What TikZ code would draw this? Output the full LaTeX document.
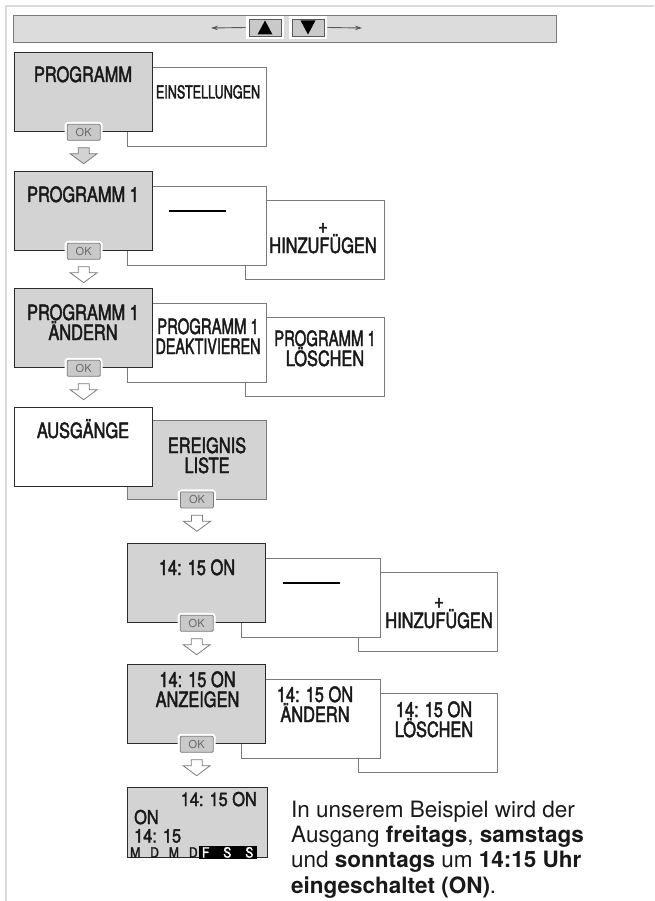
\documentclass[tikz,border=0pt]{standalone}
\usepackage{fontspec}
\usepackage{graphicx}
\setmainfont{TeX Gyre Heros}
\newfontfamily\condfont[FakeStretch=0.78, FakeBold=2]{TeX Gyre Heros}
\newfontfamily\narrowfont[FakeStretch=0.70, FakeBold=2]{TeX Gyre Heros}
\newfontfamily\dispfont[FakeStretch=0.86, FakeBold=2]{TeX Gyre Heros}
\usetikzlibrary{positioning, calc, arrows.meta}
\definecolor{panelgray}{HTML}{D3D3D3}
\definecolor{bargray}{HTML}{DCDCDC}
\definecolor{framegray}{HTML}{DADADA}
\definecolor{edgegray}{HTML}{7A7A7A}
\definecolor{darkedge}{HTML}{2A2A2A}
\definecolor{okgray}{HTML}{C9C9C9}
\tikzstyle{mainbox} = [rectangle, anchor=north west, minimum width=138pt, minimum height=79pt, inner sep=0pt, draw=darkedge, line width=1.3pt, fill=panelgray]
\tikzstyle{subbox} = [rectangle, anchor=north west, minimum width=139pt, minimum height=79pt, inner sep=0pt, draw=edgegray, line width=0.9pt, fill=white]
\tikzstyle{boxtext} = [anchor=base, align=center, inner sep=0pt, text=black!90, font=\condfont\fontsize{21}{20}\selectfont]
\tikzstyle{disptext} = [inner sep=0pt, text=black!90, font=\dispfont\fontsize{19}{18}\selectfont]
\tikzstyle{okbutton} = [rectangle, rounded corners=1pt, minimum width=33pt, minimum height=16pt, inner sep=0pt, draw=edgegray, fill=okgray, line width=0.8pt, text=black!60, font=\fontsize{11}{11}\selectfont, preaction={draw=white, line width=5pt}]
\tikzstyle{keybtn} = [rectangle, minimum width=32pt, minimum height=17pt, inner sep=0pt, draw=black!65, fill=okgray, line width=0.8pt, preaction={draw=white, line width=6pt}]
\tikzstyle{navarrow} = [draw=black!65, line width=0.9pt, -{Stealth[length=7pt, width=4.5pt]}]
\tikzset{
    okarrow/.style={draw=edgegray, fill=#1, line width=0.8pt, to path={
        let \p1=(\tikztostart) in
        (\x1-5.5pt,\y1-7pt) -- (\x1+5.5pt,\y1-7pt) -- (\x1+5.5pt,\y1-13pt) -- (\x1+13.5pt,\y1-13pt)
        -- (\x1,\y1-23pt) -- (\x1-13.5pt,\y1-13pt) -- (\x1-5.5pt,\y1-13pt) -- cycle}},
    okarrow/.default=white
}

\begin{document}
\begin{tikzpicture}[x=1pt, y=-1pt]
    \useasboundingbox (0,0) rectangle (654,901);

    % Rahmen
    \draw [framegray, line width=2pt] (654,6.5) -- (5.5,6.5) -- (5.5,901);

    % Navigationsleiste
    \node (bar) [rectangle, anchor=north west, minimum width=543pt, minimum height=27pt, inner sep=0pt, fill=bargray, draw=edgegray, line width=1pt] at (13,15) {};
    \node (keyUp) [keybtn] at (265,27.5) {};
    \node (keyDown) [keybtn] at (308,27.5) {};
    \fill ([shift={(-7.5,7)}]keyUp.center) -- ([shift={(7.5,7)}]keyUp.center) -- ([shift={(0,-7)}]keyUp.center) -- cycle;
    \fill ([shift={(-7.5,-7)}]keyDown.center) -- ([shift={(7.5,-7)}]keyDown.center) -- ([shift={(0,7)}]keyDown.center) -- cycle;
    \coordinate (navL) at (211,28);
    \coordinate (navR) at (362,28);
    \draw [navarrow] ([xshift=-3pt]keyUp.west) -- (navL);
    \draw [navarrow] ([xshift=3pt]keyDown.east) -- (navR);

    % Zeile 1
    \coordinate (r1) at (14,52);
    \node (einst) [subbox, xshift=113pt, yshift=-15pt] at (r1) {};
    \node (prog) [mainbox] at (r1) {};
    \node (progT) [boxtext] at (83,82) {PROGRAMM};
    \node (einstT) [boxtext, font=\narrowfont\fontsize{18}{18}\selectfont] at (208,98.5) {EINSTELLUNGEN};
    \node (ok1) [okbutton] at (prog.south) {OK};

    % Zeile 2
    \coordinate (r2) at (14,171);
    \node (neu) [subbox, xshift=231pt, yshift=-29pt] at (r2) {};
    \node (leer) [subbox, xshift=113pt, yshift=-15pt] at (r2) {};
    \node (prog1) [mainbox] at (r2) {};
    \node (prog1T) [boxtext] at (83,202) {PROGRAMM 1};
    \node (leerT) [inner sep=0pt] at (197,211) {\rule{57pt}{1.8pt}};
    \node (neuT) [boxtext] at (323,253) {+\\HINZUFÜGEN};
    \node (ok2) [okbutton] at (prog1.south) {OK};

    % Zeile 3
    \coordinate (r3) at (14,288);
    \node (loesch) [subbox, xshift=231pt, yshift=-29pt] at (r3) {};
    \node (deak) [subbox, xshift=113pt, yshift=-15pt] at (r3) {};
    \node (aend) [mainbox] at (r3) {};
    \node (aendT) [boxtext] at (83,340) {PROGRAMM 1\\ÄNDERN};
    \node (deakT) [boxtext] at (208,354) {\scalebox{0.91}[1]{PROGRAMM 1}\\\scalebox{0.87}[1]{DEAKTIVIEREN}};
    \node (loeschT) [boxtext] at (325,366) {\scalebox{0.91}[1]{PROGRAMM 1}\\LÖSCHEN};
    \node (ok3) [okbutton] at (aend.south) {OK};

    % Zeile 4
    \coordinate (r4) at (14,407);
    \node (liste) [subbox, fill=panelgray, xshift=113pt, yshift=-13pt] at (r4) {};
    \node (ausg) [mainbox, fill=white] at (r4) {};
    \node (ausgT) [boxtext] at (83,438) {AUSGÄNGE};
    \node (listeT) [boxtext] at (207,473) {EREIGNIS\\LISTE};
    \node (ok4) [okbutton] at (liste.south) {OK};

    % Zeile 5
    \coordinate (r5) at (127,543);
    \node (neuEv) [subbox, xshift=231pt, yshift=-29pt] at (r5) {};
    \node (leerEv) [subbox, xshift=114pt, yshift=-15pt] at (r5) {};
    \node (ev) [mainbox] at (r5) {};
    \node (evT) [boxtext] at (197,575) {14: 15 ON};
    \node (leerEvT) [inner sep=0pt] at (311,583) {\rule{57pt}{1.8pt}};
    \node (neuEvT) [boxtext] at (439,628) {+\\HINZUFÜGEN};
    \node (ok5) [okbutton] at (ev.south) {OK};

    % Zeile 6
    \coordinate (r6) at (127,664);
    \node (loeschEv) [subbox, xshift=231pt, yshift=-29pt] at (r6) {};
    \node (aendEv) [subbox, xshift=114pt, yshift=-15pt] at (r6) {};
    \node (anz) [mainbox] at (r6) {};
    \node (anzT) [boxtext] at (197.5,707) {14: 15 ON\\ANZEIGEN};
    \node (aendEvT) [boxtext] at (315,722) {14: 15 ON\\ÄNDERN};
    \node (loeschEvT) [boxtext] at (434,737) {14: 15 ON\\LÖSCHEN};
    \node (ok6) [okbutton] at (anz.south) {OK};

    % Anzeige
    \node (disp) [mainbox, minimum width=140pt, minimum height=70pt] at (127,787) {};
    \node (dispTime) [disptext, anchor=base east] at (257,806) {14: 15 ON};
    \node (dispOn) [disptext, anchor=base west] at (134,824) {ON};
    \node (dispClock) [disptext, anchor=base west] at (134,842.5) {14: 15};
    \node (dispDays) [disptext, anchor=base west, font=\dispfont\fontsize{14}{14}\selectfont] at (130,857.5) {M\hspace{10pt}D\hspace{10pt}M\hspace{10pt}D\hspace{1pt}{\setlength{\fboxsep}{0.8pt}\colorbox{black}{\color{white}\hspace{2.5pt}F\hspace{14pt}S\hspace{14pt}S\hspace{2.5pt}}}};

    % Pfeile
    \draw [okarrow=panelgray] (ok1.south) to (prog1.north);
    \draw [okarrow] (ok2.south) to (aend.north);
    \draw [okarrow] (ok3.south) to (ausg.north);
    \draw [okarrow] (ok4.south) to (ev.north);
    \draw [okarrow] (ok5.south) to (anz.north);
    \draw [okarrow] (ok6.south) to (disp.north);

    % Beispieltext
    \node (note) [anchor=base west, align=left, inner sep=0pt, text=black!90, font=\fontsize{22.5}{25.3}\selectfont] at (291,893) {In unserem Beispiel wird der\\Ausgang \textbf{freitags}, \textbf{samstags}\\und \textbf{sonntags} um \textbf{14:15 Uhr}\\\textbf{eingeschaltet (ON)}.};

\end{tikzpicture}
\end{document}
